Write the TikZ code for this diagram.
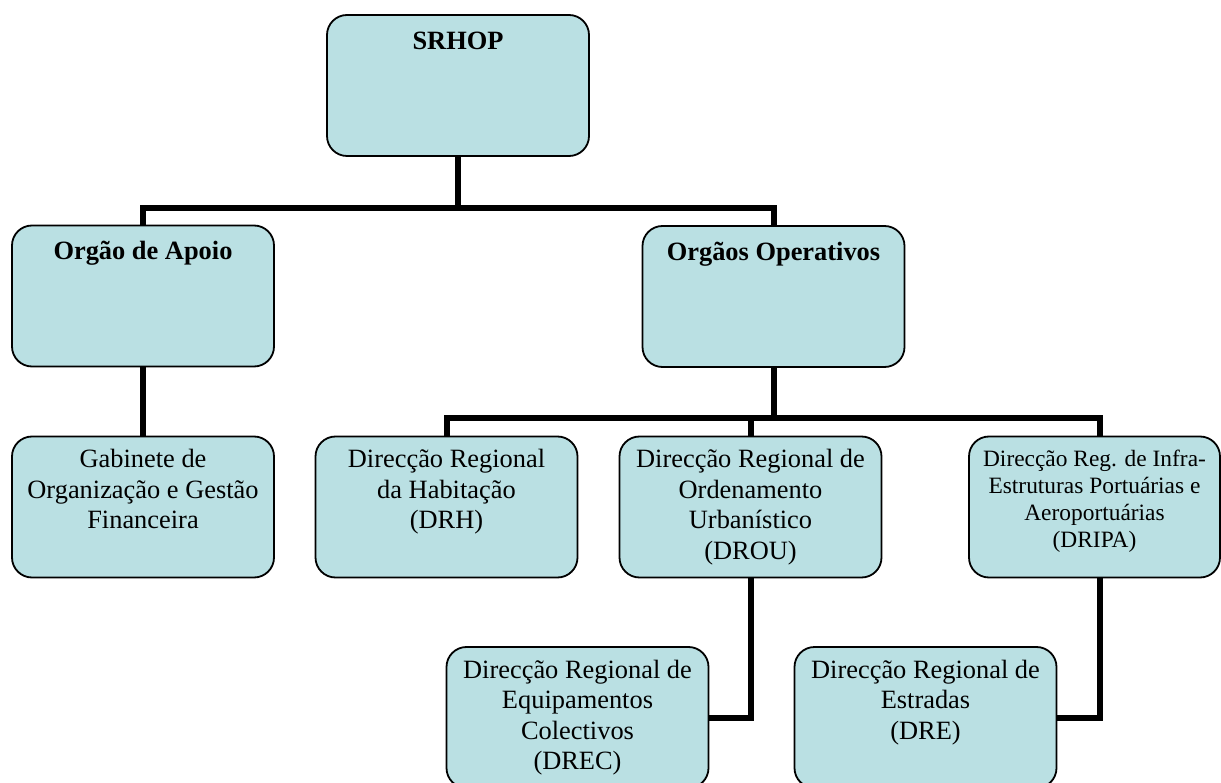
\documentclass[tikz,border=0pt]{standalone}
\usepackage{fontspec}
\setmainfont{Liberation Serif}
\usetikzlibrary{backgrounds}
\definecolor{boxfill}{RGB}{186,224,227}
\newcommand{\mystrut}{\rule{0pt}{22pt}}
\newcommand{\mysmallstrut}{\rule{0pt}{20pt}}
\begin{document}
\begin{tikzpicture}[x=1pt,y=-1pt,
  box/.style={draw=black, line width=1.8pt, fill=boxfill, rounded corners=20pt,
    minimum width=262pt, minimum height=141pt, inner sep=0pt},
  txt/.style={anchor=north, align=center, inner sep=0pt,
    font=\fontsize{26.4}{30.5}\selectfont},
  headtxt/.style={anchor=north, align=center, inner sep=0pt,
    font=\fontsize{26.4}{30.5}\selectfont\bfseries},
  smalltxt/.style={anchor=north, align=center, inner sep=0pt,
    font=\fontsize{23.4}{27}\selectfont},
  conn/.style={line width=6pt, line join=miter, draw=black}]
\useasboundingbox (0,0) rectangle (1221,783);

% boxes
\node[box] (srhop) at (458,85.5) {};
\node[box] (apoio) at (143,296) {};
\node[box] (oper) at (773.5,296.5) {};
\node[box] (gab) at (143,507) {};
\node[box] (drh) at (446.5,507) {};
\node[box] (drou) at (750.5,507) {};
\node[box, minimum width=251pt] (dripa) at (1094.5,507) {};
\node[box] (drec) at (577.5,717.5) {};
\node[box] (dre) at (925.5,717.5) {};

% texts
\node[headtxt] (tsrhop) at ([yshift=-13pt]srhop.north) {\mystrut SRHOP};
\node[headtxt] (tapoio) at ([yshift=-13pt]apoio.north) {\mystrut Orgão de Apoio};
\node[headtxt] (toper) at ([yshift=-13pt]oper.north) {\mystrut Orgãos Operativos};
\node[txt] (tgab) at ([yshift=-10pt]gab.north) {\mystrut Gabinete de\\Organização e Gestão\\Financeira};
\node[txt] (tdrh) at ([yshift=-10pt]drh.north) {\mystrut Direcção Regional\\da Habitação\\(DRH)};
\node[txt] (tdrou) at ([yshift=-10pt]drou.north) {\mystrut Direcção Regional de\\Ordenamento\\Urbanístico\\(DROU)};
\node[smalltxt] (tdripa) at ([yshift=-11pt]dripa.north) {\mysmallstrut Direcção Reg. de Infra-\\Estruturas Portuárias e\\Aeroportuárias\\(DRIPA)};
\node[txt] (tdrec) at ([yshift=-10pt]drec.north) {\mystrut Direcção Regional de\\Equipamentos\\Colectivos\\(DREC)};
\node[txt] (tdre) at ([yshift=-10pt]dre.north) {\mystrut Direcção Regional de\\Estradas\\(DRE)};

% connectors
\coordinate (b1) at (458,208);
\coordinate (b2) at (773.5,418);
\begin{scope}[on background layer]
\draw[conn] (srhop.south) -- (b1);
\draw[conn] (apoio.north) |- (b1) -| (oper.north);
\draw[conn] (apoio.south) -- (gab.north);
\draw[conn] (oper.south) -- (b2);
\draw[conn] (drh.north) |- (b2) -| ([xshift=5.5pt]dripa.north);
\draw[conn] (drou.north) -- (drou.north |- b2);
\draw[conn] (drou.south) |- (drec.east);
\draw[conn] ([xshift=5.5pt]dripa.south) |- (dre.east);
\end{scope}
\end{tikzpicture}
\end{document}
